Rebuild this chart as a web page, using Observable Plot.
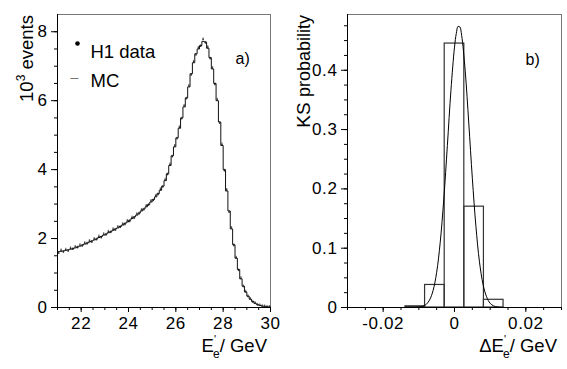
<!DOCTYPE html>
<html><head><meta charset="utf-8">
<script src="https://cdn.jsdelivr.net/npm/d3@7"></script>
<script src="https://cdn.jsdelivr.net/npm/@observablehq/plot@0.6"></script>
<style>
body{margin:0;background:#fff;}
#wrap{display:flex;width:567px;height:369px;overflow:hidden;}
#wrap svg{font-family:"Liberation Sans",Arial,Helvetica,sans-serif;overflow:visible;}
#wrap svg g[aria-label$="tick label"] text{letter-spacing:0.6px;}
</style></head><body><div id="wrap"></div>
<script>
// ---------- panel a) : electron energy spectrum ----------
const binStart = 21;
const binWidth = 0.1;
const mcEvents = [
1.62,1.63,1.64,1.66,1.67,1.69,1.71,1.73,1.76,1.78,
1.81,1.84,1.87,1.90,1.93,1.96,1.99,2.03,2.06,2.10,
2.13,2.17,2.20,2.24,2.28,2.31,2.35,2.39,2.44,2.48,
2.53,2.58,2.63,2.68,2.74,2.80,2.86,2.92,2.99,3.06,
3.13,3.21,3.30,3.40,3.52,3.68,3.88,4.12,4.40,4.66,
4.92,5.20,5.50,5.82,6.08,6.40,6.78,7.10,7.36,7.50,
7.60,7.72,7.70,7.52,7.25,6.92,6.50,6.00,5.38,4.70,
4.00,3.38,2.80,2.28,1.82,1.43,1.10,0.83,0.62,0.45,
0.33,0.24,0.17,0.12,0.085,0.06,0.045,0.032,0.022,0.015];
const dataEvents = [
1.58,1.66,1.61,1.68,1.64,1.72,1.69,1.76,1.74,1.81,
1.79,1.87,1.85,1.93,1.90,1.99,1.97,2.06,2.03,2.13,
2.11,2.20,2.18,2.27,2.25,2.34,2.33,2.42,2.41,2.51,
2.50,2.61,2.60,2.71,2.72,2.83,2.84,2.95,2.97,3.09,
3.11,3.24,3.28,3.43,3.50,3.71,3.86,4.15,4.38,4.69,
4.90,5.23,5.48,5.85,6.06,6.43,6.75,7.13,7.33,7.53,
7.58,7.78,7.68,7.55,7.22,6.95,6.47,6.03,5.35,4.73,
3.97,3.41,2.77,2.31,1.80,1.45,1.08,0.85,0.61,0.46,
0.32,0.25,0.16,0.13,0.08,0.065,0.04,0.035,0.02,0.017];
const aXTicks = [22,24,26,28,30];
const aXMinor = [21,21.5,22,22.5,23,23.5,24,24.5,25,25.5,26,26.5,27,27.5,28,28.5,29,29.5,30];
const aYTicks = [0,2,4,6,8];
const aYMinor = [0,0.5,1,1.5,2,2.5,3,3.5,4,4.5,5,5.5,6,6.5,7,7.5,8];

// ---------- panel b) : KS probability ----------
const ksEdges = [-0.01375,-0.00825,-0.00275,0.00275,0.00825,0.01375];
const ksProb = [0.002,0.038,0.445,0.170,0.013];
const fitX = [-0.013,-0.012,-0.011,-0.010,-0.009,-0.008,-0.007,-0.006,-0.005,-0.004,-0.003,-0.002,-0.001,0,0.0005,0.001,0.0015,0.002,0.003,0.004,0.005,0.006,0.007,0.008,0.009,0.010,0.011,0.012,0.013,0.014];
const fitY = [0,0.00005,0.00015,0.0005,0.0017,0.0049,0.0125,0.0287,0.0593,0.110,0.183,0.273,0.366,0.439,0.462,0.474,0.473,0.459,0.399,0.311,0.218,0.137,0.077,0.039,0.018,0.007,0.0026,0.0009,0.0003,0.0001];
const bXTicks = [-0.02,0,0.02];
const bXMinor = [-0.03,-0.025,-0.02,-0.015,-0.01,-0.005,0,0.005,0.01,0.015,0.02,0.025,0.03];
const bYTicks = [0,0.1,0.2,0.3,0.4];
const bYMinor = [0,0.025,0.05,0.075,0.1,0.125,0.15,0.175,0.2,0.225,0.25,0.275,0.3,0.325,0.35,0.375,0.4,0.425,0.45,0.475];

// tables
const bins = mcEvents.map((v,i)=>({lo:binStart+i*binWidth, hi:binStart+(i+1)*binWidth, c:binStart+(i+0.5)*binWidth, mc:v, data:dataEvents[i]}));
const mcStep = bins.map(b=>({x:b.lo,y:b.mc})).concat([{x:bins[bins.length-1].hi,y:mcEvents[mcEvents.length-1]}]);
const ksBins = ksProb.map((p,i)=>({x1:ksEdges[i],x2:ksEdges[i+1],p}));
const fit = fitX.map((x,i)=>({x,y:fitY[i]}));

const fmt = d => d===0 ? "0" : String(d);
const H = 369, MT = 14, MB = 62;

const plotA = Plot.plot({
  width:290, height:H, marginLeft:57, marginRight:20, marginTop:MT, marginBottom:MB,
  x:{domain:[21,30]}, y:{domain:[0,8.5]},
  marks:[
    Plot.frame({stroke:"#777", strokeWidth:1}),
    Plot.ruleX(bins,{x:"c", y1:d=>d.data-0.04, y2:d=>d.data+0.04, stroke:"#777", strokeWidth:1.3}),
    Plot.line(mcStep,{x:"x", y:"y", curve:"step-after", stroke:"#111", strokeWidth:1}),
    Plot.dot(bins,{x:"c", y:"data", r:0.7, fill:"#222", stroke:null}),
    Plot.axisX({ticks:aXMinor, tickSize:3, text:null, label:null}),
    Plot.axisX({ticks:aXTicks, tickSize:5, tickPadding:4, fontSize:17, tickFormat:fmt, label:null}),
    Plot.axisY({ticks:aYMinor, tickSize:3, text:null, label:null}),
    Plot.axisY({ticks:aYTicks, tickSize:6, tickPadding:4, fontSize:17, tickFormat:fmt, label:null}),
    Plot.ruleY([0],{stroke:"#000"}),
    Plot.ruleX([21],{stroke:"#000"}),
    Plot.dot([0],{frameAnchor:"top-left", dx:20, dy:29, r:2.3, fill:"#000", stroke:null}),
    Plot.text(["H1 data"],{frameAnchor:"top-left", dx:33, dy:30, textAnchor:"start", fontSize:18.5, fill:"#000"}),
    Plot.text(["–"],{frameAnchor:"top-left", dx:13, dy:58, textAnchor:"start", fontSize:14, fill:"#777"}),
    Plot.text(["MC"],{frameAnchor:"top-left", dx:33, dy:59, textAnchor:"start", fontSize:18.5, fill:"#000"}),
    Plot.text(["a)"],{frameAnchor:"top-left", dx:178, dy:38, textAnchor:"start", fontSize:16, fill:"#000"})
  ]
});

const plotB = Plot.plot({
  width:277, height:H, marginLeft:57, marginRight:6, marginTop:MT, marginBottom:MB,
  x:{domain:[-0.03,0.03]}, y:{domain:[0,0.494]},
  marks:[
    Plot.frame({stroke:"#777", strokeWidth:1}),
    Plot.rectY(ksBins,{x1:"x1", x2:"x2", y1:0, y2:"p", fill:"none", stroke:"#333", strokeWidth:1.2}),
    Plot.line(fit,{x:"x", y:"y", curve:"catmull-rom", stroke:"#000", strokeWidth:1}),
    Plot.axisX({ticks:bXMinor, tickSize:3, text:null, label:null}),
    Plot.axisX({ticks:bXTicks, tickSize:5, tickPadding:4, fontSize:17, tickFormat:fmt, label:null}),
    Plot.axisY({ticks:bYMinor, tickSize:3, text:null, label:null}),
    Plot.axisY({ticks:bYTicks, tickSize:6, tickPadding:4, fontSize:17, tickFormat:fmt, label:null}),
    Plot.ruleY([0],{stroke:"#000"}),
    Plot.ruleX([-0.03],{stroke:"#000"}),
    Plot.text(["b)"],{frameAnchor:"top-left", dx:178, dy:39, textAnchor:"start", fontSize:16, fill:"#000"})
  ]
});

const wrap = document.getElementById("wrap");
wrap.appendChild(plotA);
wrap.appendChild(plotB);

// axis titles with sub/superscripts
function yTitle(svg, x, parts){
  const t = d3.select(svg).append("text")
    .attr("transform",`translate(${x},15) rotate(-90)`)
    .attr("text-anchor","end").attr("fill","#000");
  parts(t);
}
yTitle(plotA, 33, t=>{
  t.append("tspan").attr("font-size",18.5).text("10");
  t.append("tspan").attr("font-size",12).attr("dy",-8).text("3");
  t.append("tspan").attr("font-size",18.5).attr("dy",8).text(" events");
});
yTitle(plotB, 20, t=>{
  t.append("tspan").attr("font-size",19).text("KS ");
  t.append("tspan").attr("font-size",18).text("probability");
});
function xTitle(svg, prefix){
  const t = d3.select(svg).append("text")
    .attr("x",267).attr("y",352).attr("text-anchor","end").attr("fill","#000").attr("font-size",18.5);
  t.append("tspan").text(prefix+"E");
  t.append("tspan").attr("font-size",11).attr("dy",-9).text("'");
  t.append("tspan").attr("font-size",12).attr("dx",-3).attr("dy",15).text("e");
  t.append("tspan").attr("dy",-6).text("/ GeV");
}
xTitle(plotA, "");
xTitle(plotB, "\u0394");
</script></body></html>
